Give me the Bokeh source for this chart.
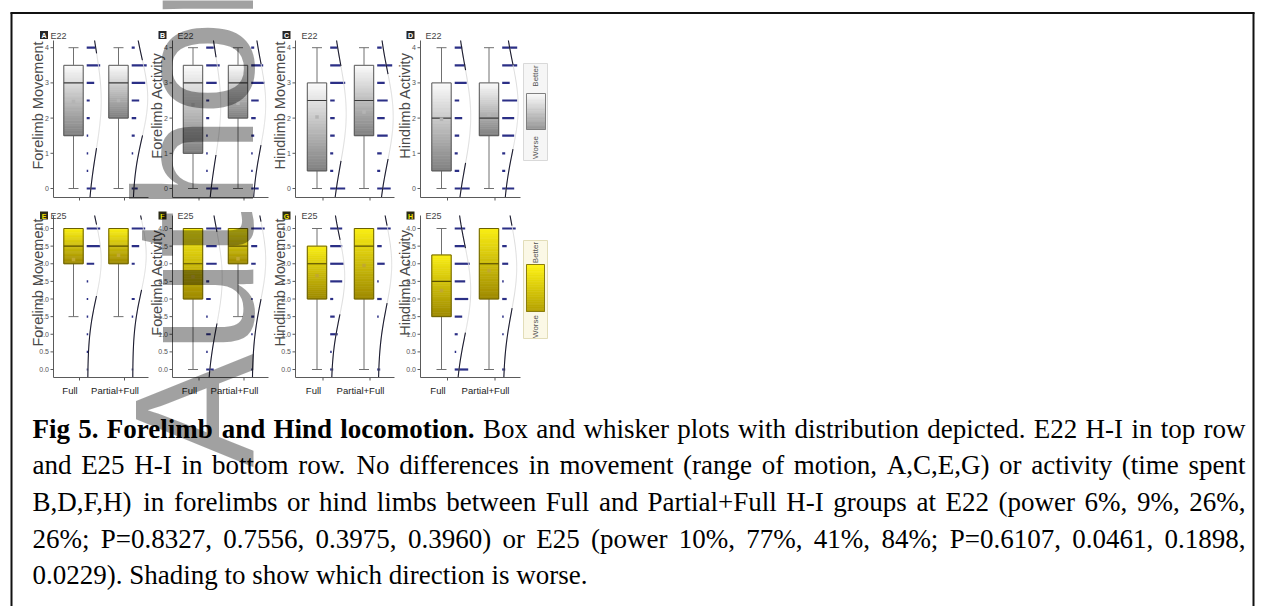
import numpy as np
from bokeh.plotting import figure
from bokeh.models import Range1d
from bokeh.core.properties import value
from bokeh.embed import file_html
from bokeh.resources import INLINE

# ----------------------------- data -----------------------------
levels = [0.0, 0.5, 1.0, 1.5, 2.0, 2.5, 3.0, 3.5, 4.0]
groups = ["Full", "Partial+Full"]
panel_letters = ["A", "B", "C", "D", "E", "F", "G", "H"]
panel_ages = ["E22", "E22", "E22", "E22", "E25", "E25", "E25", "E25"]
y_titles = ["Forelimb Movement", "Forelimb Activity", "Hindlimb Movement", "Hindlimb Activity",
            "Forelimb Movement", "Forelimb Activity", "Hindlimb Movement", "Hindlimb Activity"]
e22_ticks = [0, 1, 2, 3, 4]
e22_tick_labels = ["0", "1", "2", "3", "4"]
e25_ticks = [0.0, 0.5, 1.0, 1.5, 2.0, 2.5, 3.0, 3.5, 4.0]
e25_tick_labels = ["0.0", "0.5", "1.0", "1.5", "2.0", "2.5", "3.0", "3.5", "4.0"]

# box statistics, one value per panel A..H
q1_full = [1.5, 1.0, 0.5, 0.5, 3.0, 2.0, 2.0, 1.5]
median_full = [3.0, 3.0, 2.5, 2.0, 3.5, 3.0, 3.0, 2.5]
q3_full = [3.5, 3.5, 3.0, 3.0, 4.0, 4.0, 3.5, 3.25]
low_full = [0.0, 0.0, 0.0, 0.0, 1.5, 0.0, 0.0, 0.0]
high_full = [4.0, 4.0, 4.0, 4.0, 4.0, 4.0, 4.0, 4.0]
mean_full = [2.47, 2.38, 2.03, 1.97, 3.12, 2.63, 2.66, 2.24]

q1_pf = [2.0, 2.0, 1.5, 1.5, 3.0, 3.0, 2.0, 2.0]
median_pf = [3.0, 3.0, 2.5, 2.0, 3.5, 3.5, 3.5, 3.0]
q3_pf = [3.5, 3.5, 3.5, 3.0, 4.0, 4.0, 4.0, 4.0]
low_pf = [0.0, 0.0, 0.0, 0.0, 1.5, 1.5, 0.0, 0.0]
high_pf = [4.0, 4.0, 4.0, 4.0, 4.0, 4.0, 4.0, 4.0]
mean_pf = [2.50, 2.42, 2.17, 2.10, 3.24, 3.14, 2.95, 2.80]

# distribution counts at each level (0, 0.5, ..., 4), one row per panel
dist_full = [
    [6, 1, 1, 1, 2, 2, 5, 9, 6],
    [8, 1, 1, 1, 2, 2, 7, 9, 5],
    [10, 2, 2, 3, 3, 3, 10, 7, 5],
    [10, 3, 2, 3, 5, 3, 8, 7, 5],
    [1, 1, 1, 1, 1, 1, 5, 9, 9],
    [5, 1, 3, 1, 3, 2, 7, 7, 10],
    [2, 1, 5, 3, 2, 8, 9, 8, 8],
    [9, 1, 2, 5, 9, 7, 10, 7, 7],
]
dist_pf = [
    [4, 0, 1, 2, 3, 5, 9, 10, 2],
    [5, 1, 1, 2, 3, 5, 9, 8, 2],
    [9, 2, 3, 7, 5, 7, 5, 10, 3],
    [8, 2, 2, 8, 8, 10, 5, 10, 10],
    [1, 0, 0, 1, 2, 0, 2, 5, 9],
    [1, 0, 1, 2, 1, 0, 3, 4, 9],
    [2, 0, 0, 1, 3, 1, 5, 3, 9],
    [2, 0, 1, 1, 3, 1, 4, 3, 9],
]
legend_labels = ["Better", "Worse"]

caption_title = "Fig 5. Forelimb and Hind locomotion."
caption_lines = [
    "Fig 5. Forelimb and Hind locomotion. Box and whisker plots with distribution depicted. E22 H-I in top row",
    "and E25 H-I in bottom row. No differences in movement (range of motion, A,C,E,G) or activity (time spent",
    "B,D,F,H) in forelimbs or hind limbs between Full and Partial+Full H-I groups at E22 (power 6%, 9%, 26%,",
    "26%; P=0.8327, 0.7556, 0.3975, 0.3960) or E25 (power 10%, 77%, 41%, 84%; P=0.6107, 0.0461, 0.1898,",
    "0.0229). Shading to show which direction is worse.",
]
watermark_text = "Author"

# ----------------------------- layout -----------------------------
SANS = "Liberation Sans"
SERIF = "Liberation Serif"

OX, OY, W, H = 0, 0, 1263, 606
p = figure(width=W, height=H, x_range=Range1d(OX, OX + W), y_range=Range1d(OY + H, OY),
           output_backend="svg", toolbar_location=None,
           x_axis_location=None, y_axis_location=None, min_border=0,
           outline_line_color=None, background_fill_color="white", border_fill_color="white")
p.grid.visible = False

col_axis_px = [53.0, 172.0, 295.0, 420.0]
col_c1_px = [73.0, 192.5, 316.5, 441.0]
col_sp_px = [45.0, 45.0, 47.0, 47.5]
col_xend_px = [148.0, 268.0, 394.0, 520.0]
col_badge_px = [43.5, 162.0, 286.0, 410.0]
col_age_px = [50.0, 177.0, 301.0, 425.0]
row_zero_px = [188.0, 369.0]
row_unit_px = [35.2, 35.25]
row_xaxis_px = [197.0, 377.0]
row_top_px = [40.0, 215.0]
row_badge_px = [34.5, 215.0]
row_title_px = [105.0, 282.0]
BOX_HW, CAP_HW, DASH_GAP, DASH_UNIT = 9.7, 5.0, 3.5, 1.5
TICK_OFF, LABEL_OFF = 6.0, -3.5

p.extra_y_ranges = {f"y{r}": Range1d((row_zero_px[r] - (OY + H)) / row_unit_px[r],
                                      (row_zero_px[r] - OY) / row_unit_px[r]) for r in range(2)}
p.extra_x_ranges = {f"x{k}": Range1d(1 + (OX - col_c1_px[k % 4]) / col_sp_px[k % 4],
                                      1 + (OX + W - col_c1_px[k % 4]) / col_sp_px[k % 4]) for k in range(8)}

row_style = [
    dict(top=(252, 252, 252), bottom=(128, 128, 128), outline="#555555", median="#3a3a3a",
         mean="#b4b4b4", badge_fill="#262626", badge_text="#ffffff",
         leg_fill="#f6f6f6", leg_line="#d9d9d9", leg_top=(252, 252, 252), leg_bottom=(150, 150, 150),
         leg_outline="#808080"),
    dict(top=(250, 238, 20), bottom=(158, 138, 0), outline="#6a5f00", median="#5a5000",
         mean="#c0a830", badge_fill="#2b2a14", badge_text="#f0e000",
         leg_fill="#fbf8e6", leg_line="#e2ddb8", leg_top=(255, 245, 20), leg_bottom=(180, 160, 0),
         leg_outline="#8a7d10"),
]


def hexc(rgb):
    return "#%02x%02x%02x" % tuple(int(round(v)) for v in rgb)


def grad(top, bottom, n):
    return [hexc([top[j] + (bottom[j] - top[j]) * (i + 0.5) / n for j in range(3)]) for i in range(n)]


N_SL = 28
lv = np.array(levels)

for k in range(8):
    row, col = divmod(k, 4)
    sp, u = col_sp_px[col], row_unit_px[row]
    st = row_style[row]
    kw = dict(x_range_name=f"x{k}", y_range_name=f"y{row}")
    yb = (row_zero_px[row] - row_xaxis_px[row]) / u
    yt = (row_zero_px[row] - row_top_px[row]) / u
    xa = 1 + (col_axis_px[col] - col_c1_px[col]) / sp
    xe = 1 + (col_xend_px[col] - col_c1_px[col]) / sp
    stats = [
        (q1_full[k], median_full[k], q3_full[k], low_full[k], high_full[k], mean_full[k], dist_full[k]),
        (q1_pf[k], median_pf[k], q3_pf[k], low_pf[k], high_pf[k], mean_pf[k], dist_pf[k]),
    ]
    cx = [1.0, 2.0]

    # whiskers + caps
    wx0, wy0, wx1, wy1 = [], [], [], []
    for c, (q1, md, q3, lo, hi, mn, dist) in zip(cx, stats):
        wx0 += [c, c, c - CAP_HW / sp, c - CAP_HW / sp]
        wx1 += [c, c, c + CAP_HW / sp, c + CAP_HW / sp]
        wy0 += [q3, q1, hi, lo]
        wy1 += [hi, lo, hi, lo]
    p.segment(x0=wx0, y0=wy0, x1=wx1, y1=wy1, line_color="#707070", line_width=1, **kw)

    # gradient boxes
    L, R, T, B, C = [], [], [], [], []
    for c, (q1, md, q3, lo, hi, mn, dist) in zip(cx, stats):
        edges = np.linspace(q3, q1, N_SL + 1)
        L += [c - BOX_HW / sp] * N_SL
        R += [c + BOX_HW / sp] * N_SL
        T += list(edges[:-1])
        B += list(edges[1:])
        C += grad(st["top"], st["bottom"], N_SL)
    p.quad(left=L, right=R, top=T, bottom=B, fill_color=C, line_color=C, line_width=0.6, **kw)
    p.quad(left=[c - BOX_HW / sp for c in cx], right=[c + BOX_HW / sp for c in cx],
           top=[s[2] for s in stats], bottom=[s[0] for s in stats],
           fill_color=None, line_color=st["outline"], line_width=1, **kw)
    p.segment(x0=[c - BOX_HW / sp for c in cx], x1=[c + BOX_HW / sp for c in cx],
              y0=[s[1] for s in stats], y1=[s[1] for s in stats],
              line_color=st["median"], line_width=1.2, **kw)
    p.scatter(x=cx, y=[s[5] for s in stats], marker="square", size=3.5,
              fill_color=st["mean"], line_color=None, **kw)

    # distribution dashes
    dx0, dx1, dy = [], [], []
    for c, s in zip(cx, stats):
        base = c + (BOX_HW + DASH_GAP) / sp
        for lev, n in zip(levels, s[6]):
            if n > 0:
                dx0.append(base)
                dx1.append(base + n * DASH_UNIT / sp)
                dy.append(lev)
    p.segment(x0=dx0, y0=dy, x1=dx1, y1=dy, line_color="#2b2f86", line_width=2.2,
              line_cap="butt", **kw)

    # fitted normal curves (from the counts above)
    for c, s in zip(cx, stats):
        cnt = np.array(s[6], dtype=float)
        n = cnt.sum()
        m = (cnt * lv).sum() / n
        sd = np.sqrt((cnt * (lv - m) ** 2).sum() / (n - 1))
        yy = np.linspace(yb, yt, 160)
        dens = np.exp(-0.5 * ((yy - m) / sd) ** 2)
        xx = c + (BOX_HW + DASH_GAP + 1 + dens * cnt.max() * DASH_UNIT) / sp
        p.line(xx, yy, line_color="#dcdcdc", line_width=1, **kw)
        p.line(np.where(dens < 0.66, xx, np.nan), yy, line_color="#1c1c30", line_width=1.1, **kw)

    # axes
    ticks = e22_ticks if row == 0 else e25_ticks
    tlabels = e22_tick_labels if row == 0 else e25_tick_labels
    p.segment(x0=[xa, xa], y0=[yb, yb], x1=[xa, xe], y1=[yt, yb], line_color="#5a5a5a", line_width=1, **kw)
    p.segment(x0=[xa - 3 / sp] * len(ticks), x1=[xa] * len(ticks), y0=ticks, y1=ticks,
              line_color="#5a5a5a", line_width=1, **kw)
    p.text(x=[xa - 4.5 / sp] * len(ticks), y=ticks, text=tlabels, text_align="right",
           text_baseline="middle", text_font=value(SANS), text_font_size="7px", text_color="#555555", **kw)
    p.segment(x0=[c + TICK_OFF / sp for c in cx], x1=[c + TICK_OFF / sp for c in cx],
              y0=[yb, yb], y1=[yb - 3 / u, yb - 3 / u], line_color="#5a5a5a", line_width=1, **kw)
    if row == 1:
        p.text(x=[c + LABEL_OFF / sp for c in cx], y=[yb - 13 / u] * 2, text=groups,
               text_align="center", text_baseline="middle", text_font=value(SANS),
               text_font_size="9.5px", text_color="#222222", **kw)

    # axis title, panel badge, age
    p.text(x=[col_axis_px[col] - 15.5], y=[row_title_px[row]], text=[y_titles[k]], angle=np.pi / 2,
           text_align="center", text_baseline="middle", text_font=value(SANS),
           text_font_size="14.5px", text_color="#4a4a4a")
    p.rect(x=[col_badge_px[col]], y=[row_badge_px[row]], width=8, height=8,
           fill_color=st["badge_fill"], line_color=None)
    p.text(x=[col_badge_px[col]], y=[row_badge_px[row] + 0.5], text=[panel_letters[k]],
           text_align="center", text_baseline="middle", text_font=value(SANS), text_font_style="bold",
           text_font_size="7px", text_color=st["badge_text"])
    p.text(x=[col_age_px[col]], y=[row_badge_px[row] + 0.5], text=[panel_ages[k]],
           text_align="left", text_baseline="middle", text_font=value(SANS),
           text_font_size="9px", text_color="#444444")

# shading legends
leg_box = [(523.0, 547.0, 63.0, 160.0), (523.0, 547.0, 240.0, 338.0)]
leg_sw = [(526.0, 545.0, 93.0, 129.0), (526.0, 544.0, 264.0, 311.0)]
leg_better_y = [75.5, 252.0]
leg_worse_y = [147.0, 326.0]
for r in range(2):
    st = row_style[r]
    x0, x1, y0, y1 = leg_box[r]
    p.quad(left=[x0], right=[x1], top=[y0], bottom=[y1], fill_color=st["leg_fill"],
           line_color=st["leg_line"], line_width=1)
    sx0, sx1, sy0, sy1 = leg_sw[r]
    edges = np.linspace(sy0, sy1, N_SL + 1)
    cols = grad(st["leg_top"], st["leg_bottom"], N_SL)
    p.quad(left=[sx0] * N_SL, right=[sx1] * N_SL, top=list(edges[:-1]), bottom=list(edges[1:]),
           fill_color=cols, line_color=cols, line_width=0.6)
    p.quad(left=[sx0], right=[sx1], top=[sy0], bottom=[sy1], fill_color=None,
           line_color=st["leg_outline"], line_width=1)
    p.text(x=[(x0 + x1) / 2] * 2, y=[leg_better_y[r], leg_worse_y[r]], text=legend_labels,
           angle=np.pi / 2, text_align="center", text_baseline="middle", text_font=value(SANS),
           text_font_size="8px", text_color="#555555")

# caption, justified
TIMES_R = {' ': 250, '%': 833, '(': 333, ')': 333, '+': 564, ',': 250, '-': 333, '.': 250, ':': 278,
           ';': 278, '=': 564, 'A': 722, 'B': 667, 'C': 667, 'D': 722, 'E': 611, 'F': 556, 'G': 722,
           'H': 722, 'I': 333, 'J': 389, 'K': 722, 'L': 611, 'M': 889, 'N': 722, 'O': 722, 'P': 556,
           'Q': 722, 'R': 667, 'S': 556, 'T': 611, 'U': 722, 'V': 722, 'W': 944, 'X': 722, 'Y': 722,
           'Z': 611, 'a': 444, 'b': 500, 'c': 444, 'd': 500, 'e': 444, 'f': 333, 'g': 500, 'h': 500,
           'i': 278, 'j': 278, 'k': 500, 'l': 278, 'm': 778, 'n': 500, 'o': 500, 'p': 500, 'q': 500,
           'r': 333, 's': 389, 't': 278, 'u': 500, 'v': 500, 'w': 722, 'x': 500, 'y': 500, 'z': 444}
TIMES_B = {' ': 250, '.': 250, 'F': 611, 'H': 778, 'a': 500, 'b': 556, 'c': 444, 'd': 556, 'e': 444,
           'g': 500, 'i': 278, 'l': 278, 'm': 833, 'n': 556, 'o': 500, 'r': 444, 't': 333}


def tw(word, bold, fs):
    tab = TIMES_B if bold else TIMES_R
    return sum(tab.get(ch, 500) for ch in word) * fs / 1000.0


CAP_FS = 27
CAP_X0, CAP_X1 = 32.0, 1245.0
CAP_BASE0, CAP_LEAD = 428.0, 36.7
n_bold = len(caption_title.split(" "))
rx, ry, rt, bx, by, bt = [], [], [], [], [], []
for li, line in enumerate(caption_lines):
    words = line.split(" ")
    bolds = [li == 0 and wi < n_bold for wi in range(len(words))]
    widths = [tw(w, b, CAP_FS) for w, b in zip(words, bolds)]
    if li < len(caption_lines) - 1:
        gap = (CAP_X1 - CAP_X0 - sum(widths)) / (len(words) - 1)
    else:
        gap = TIMES_R[' '] * CAP_FS / 1000.0
    x = CAP_X0
    yb_ = CAP_BASE0 + li * CAP_LEAD
    for w, b, wd in zip(words, bolds, widths):
        if b:
            bx.append(x); by.append(yb_); bt.append(w)
        else:
            rx.append(x); ry.append(yb_); rt.append(w)
        x += wd + gap
p.text(x=rx, y=ry, text=rt, text_align="left", text_baseline="alphabetic",
       text_font=value(SERIF), text_font_size=f"{CAP_FS}px", text_color="#000000")
p.text(x=bx, y=by, text=bt, text_align="left", text_baseline="alphabetic",
       text_font=value(SERIF), text_font_style="bold", text_font_size=f"{CAP_FS}px", text_color="#000000")

# page frame
p.segment(x0=[10, 11, 1253], y0=[12.5, 12, 12], x1=[1254, 11, 1253], y1=[12.5, 606, 606],
          line_color="#111111", line_width=2)

# watermark
p.text(x=[193], y=[215], text=[watermark_text], angle=np.pi / 2, text_align="center",
       text_baseline="middle", text_font=value(SANS), text_font_size="171px",
       text_color="#000000", text_alpha=0.37)

open("out.html", "w").write(file_html(p, INLINE))
